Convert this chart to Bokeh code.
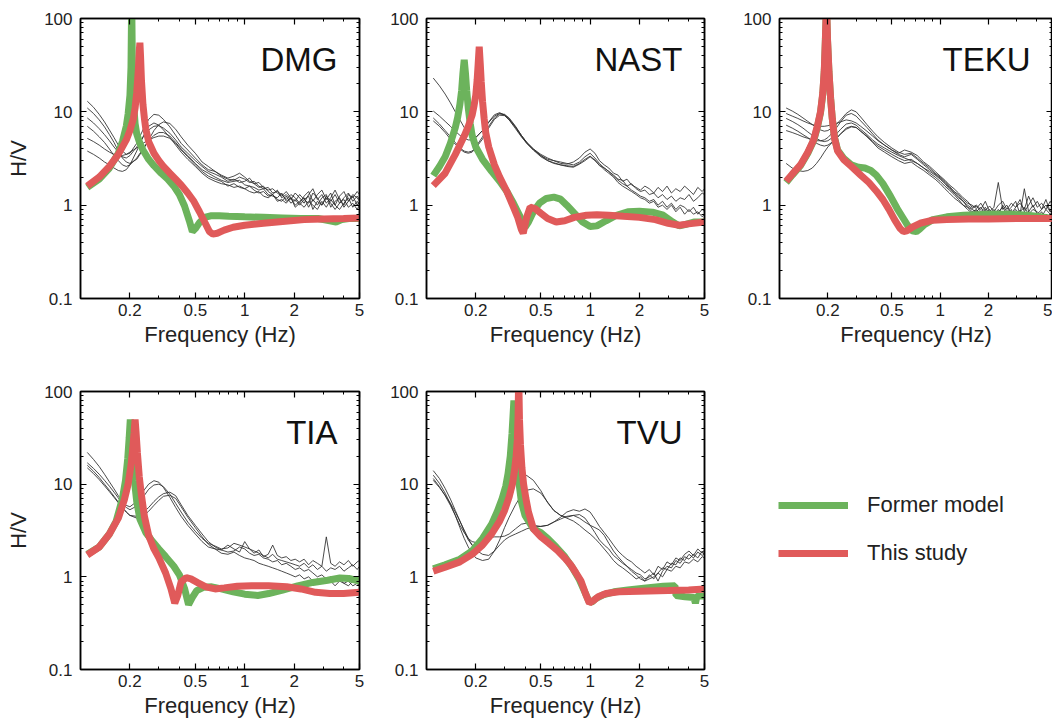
from bokeh.plotting import figure
from bokeh.layouts import row, column
from bokeh.models import (LogAxis, FixedTicker, CustomJSTickFormatter, Label,
                          Legend, LegendItem, Range1d)
from bokeh.embed import file_html
from bokeh.resources import INLINE

FONT = "Liberation Sans"
GREEN = "#6cb35c"
RED = "#e05a5a"
BLACK = "#2b2b2b"

# ---------------- axis ticks ----------------
X_MAJOR = [0.2, 0.5, 1, 2, 5]
X_MINOR = [0.1, 0.3, 0.4, 0.6, 0.7, 0.8, 0.9, 3, 4]
Y_MAJOR = [0.1, 1, 10, 100]
Y_MINOR = [0.2, 0.3, 0.4, 0.5, 0.6, 0.7, 0.8, 0.9, 2, 3, 4, 5, 6, 7, 8, 9,
           20, 30, 40, 50, 60, 70, 80, 90]

# ---------------- observed H/V (thin black) ----------------
FREQ_OBS = [0.11, 0.12, 0.13, 0.14, 0.15, 0.16, 0.17, 0.18, 0.19, 0.20,
            0.22, 0.24, 0.26, 0.28, 0.30, 0.32, 0.35, 0.38, 0.41, 0.45,
            0.50, 0.55, 0.60, 0.66, 0.72, 0.79, 0.86, 0.93, 1.00, 1.07,
            1.14, 1.22, 1.30, 1.39, 1.48, 1.58, 1.68, 1.79, 1.91, 2.03,
            2.16, 2.30, 2.45, 2.60, 2.77, 2.95, 3.14, 3.34, 3.55, 3.78,
            4.02, 4.28, 4.55, 4.84, 5.00]

DMG_OBS_1 = [13.0, 11.2, 9.4, 7.8, 6.4, 5.3, 4.4, 3.8, 3.5, 3.6,
             4.6, 6.4, 8.3, 9.4, 9.2, 8.3, 6.9, 5.6, 4.6, 3.9,
             3.2, 2.7, 2.4, 2.3, 2.1, 1.95, 2.05, 2.2, 2.0, 1.8,
             1.7, 1.75, 1.55, 1.45, 1.5, 1.35, 1.25, 1.4, 1.2, 1.1,
             1.3, 1.15, 1.05, 1.35, 1.2, 1.0, 1.25, 1.1, 1.3, 1.05,
             1.2, 1.35, 1.1, 1.25, 1.15]
DMG_OBS_2 = [11.0, 9.6, 8.2, 6.9, 5.7, 4.7, 3.8, 3.2, 2.9, 2.8,
             3.1, 3.9, 5.0, 6.3, 7.3, 7.8, 7.5, 6.5, 5.4, 4.4,
             3.6, 2.9, 2.6, 2.3, 2.05, 1.9, 1.85, 2.0, 1.9, 1.75,
             1.8, 1.6, 1.5, 1.55, 1.35, 1.4, 1.3, 1.15, 1.3, 1.2,
             1.05, 1.25, 1.4, 1.1, 1.3, 1.45, 1.15, 1.35, 1.0, 1.25,
             1.4, 1.1, 1.3, 1.2, 1.1]
DMG_OBS_3 = [8.6, 7.6, 6.6, 5.7, 4.9, 4.2, 3.7, 3.3, 3.2, 3.4,
             4.2, 5.3, 6.4, 7.0, 7.1, 6.7, 5.9, 5.0, 4.2, 3.6,
             3.0, 2.6, 2.3, 2.15, 2.0, 1.8, 1.9, 1.75, 1.8, 1.95,
             1.7, 1.55, 1.6, 1.4, 1.3, 1.45, 1.2, 1.3, 1.15, 1.35,
             1.2, 1.05, 1.3, 1.5, 1.15, 1.3, 1.05, 1.2, 1.45, 1.15,
             1.0, 1.3, 1.2, 1.4, 1.3]
DMG_OBS_4 = [7.0, 6.2, 5.4, 4.7, 4.0, 3.4, 3.0, 2.7, 2.6, 2.7,
             3.2, 4.0, 4.9, 5.6, 6.0, 6.0, 5.5, 4.7, 4.0, 3.4,
             2.8, 2.4, 2.2, 2.0, 1.85, 1.75, 1.8, 1.85, 1.65, 1.6,
             1.55, 1.45, 1.5, 1.3, 1.25, 1.2, 1.35, 1.1, 1.2, 1.0,
             1.1, 1.2, 0.95, 1.15, 1.0, 1.2, 1.3, 0.95, 1.1, 1.2,
             0.95, 1.1, 1.25, 1.0, 1.1]
DMG_OBS_5 = [5.2, 4.8, 4.4, 4.0, 3.7, 3.5, 3.4, 3.4, 3.5, 3.7,
             4.1, 4.6, 5.0, 5.3, 5.5, 5.5, 5.2, 4.6, 3.9, 3.3,
             2.7, 2.3, 2.05, 1.9, 1.8, 1.6, 1.7, 1.55, 1.5, 1.6,
             1.45, 1.35, 1.4, 1.25, 1.3, 1.15, 1.1, 1.25, 1.05, 1.15,
             1.0, 1.15, 1.25, 0.9, 1.1, 1.0, 1.2, 1.05, 0.9, 1.05,
             1.15, 0.95, 1.05, 0.9, 1.0]
DMG_OBS_6 = [3.8, 3.5, 3.2, 2.9, 2.7, 2.5, 2.35, 2.3, 2.4, 2.7,
             3.8, 5.4, 7.0, 7.6, 7.2, 6.4, 5.3, 4.4, 3.7, 3.1,
             2.6, 2.2, 1.95, 1.8, 1.7, 1.65, 1.55, 1.6, 1.5, 1.4,
             1.35, 1.4, 1.25, 1.2, 1.3, 1.1, 1.15, 1.05, 1.2, 0.95,
             1.05, 0.95, 1.1, 1.0, 0.9, 1.1, 0.95, 1.15, 1.0, 0.9,
             1.05, 1.2, 0.95, 1.1, 1.0]

NAST_OBS_1 = [23, 19, 15.5, 12.5, 10, 8.2, 6.8, 5.8, 5.3, 5.3,
              6.3, 7.8, 9.3, 9.8, 9.2, 8.2, 6.6, 5.4, 4.6, 3.9,
              3.4, 3.1, 3.0, 2.9, 2.8, 2.7, 2.9, 3.3, 3.6, 3.2,
              2.8, 2.5, 2.3, 2.1, 1.9, 1.85, 1.6, 1.7, 1.5, 1.4,
              1.45, 1.3, 1.35, 1.2, 1.3, 1.15, 1.25, 1.1, 1.2, 1.15,
              1.3, 1.1, 1.2, 1.35, 1.3]
NAST_OBS_2 = [10.2, 9.0, 7.9, 7.0, 6.2, 5.6, 5.2, 5.0, 5.0, 5.3,
              6.3, 7.7, 9.0, 9.6, 9.3, 8.4, 6.9, 5.6, 4.7, 4.0,
              3.5, 3.2, 3.0, 2.8, 2.75, 2.9, 3.2, 3.7, 4.0, 3.6,
              3.0, 2.7, 2.5, 2.2, 2.1, 1.8, 1.9, 1.65, 1.55, 1.45,
              1.6, 1.5, 1.35, 1.55, 1.4, 1.6, 1.35, 1.5, 1.4, 1.6,
              1.45, 1.3, 1.55, 1.4, 1.5]
NAST_OBS_3 = [8.6, 7.4, 6.3, 5.4, 4.7, 4.1, 3.8, 3.7, 3.8, 4.2,
              5.4, 7.0, 8.6, 9.5, 9.4, 8.6, 7.0, 5.6, 4.7, 4.0,
              3.4, 3.0, 2.85, 2.7, 2.6, 2.55, 2.75, 3.0, 3.3, 3.0,
              2.7, 2.4, 2.2, 2.0, 1.75, 1.6, 1.5, 1.4, 1.3, 1.2,
              1.15, 1.05, 1.1, 0.95, 1.0, 0.9, 1.0, 0.85, 0.95, 0.8,
              0.9, 0.8, 0.85, 0.75, 0.8]
NAST_OBS_4 = [8.0, 7.0, 6.0, 5.1, 4.5, 4.0, 3.7, 3.6, 3.7, 4.1,
              5.1, 6.7, 8.3, 9.2, 9.1, 8.2, 6.8, 5.5, 4.6, 3.9,
              3.3, 3.0, 2.8, 2.7, 2.65, 2.6, 2.8, 3.1, 3.35, 3.05,
              2.65, 2.5, 2.3, 2.05, 1.85, 1.7, 1.6, 1.45, 1.35, 1.25,
              1.2, 1.1, 1.15, 1.0, 1.1, 0.95, 1.05, 0.9, 1.0, 0.95,
              0.85, 0.95, 0.8, 0.9, 0.85]

TEKU_OBS_1 = [11.0, 10.2, 9.4, 8.6, 7.9, 7.3, 6.8, 6.4, 6.2, 6.3,
              7.0, 8.2, 9.6, 10.5, 10.0, 8.8, 7.3, 6.2, 5.4, 4.7,
              4.1, 3.7, 3.5, 3.6, 3.2, 2.8, 2.5, 2.2, 2.0, 1.8,
              1.6, 1.4, 1.3, 1.15, 1.05, 1.0, 0.92, 1.05, 0.88, 0.98,
              0.85, 1.0, 1.1, 0.9, 1.05, 0.95, 1.15, 0.85, 1.0, 1.2,
              0.95, 1.05, 0.9, 1.1, 1.0]
TEKU_OBS_2 = [9.6, 9.0, 8.5, 8.0, 7.6, 7.3, 7.1, 7.0, 7.0, 7.1,
              7.4, 7.8, 8.2, 8.0, 7.6, 7.0, 6.2, 5.5, 4.9, 4.4,
              3.9, 3.6, 3.9, 3.7, 3.4, 2.9, 2.6, 2.3, 2.05, 1.85,
              1.65, 1.5, 1.35, 1.2, 1.1, 0.95, 1.0, 0.9, 1.1, 0.85,
              0.95, 1.75, 0.9, 1.0, 0.8, 0.95, 1.05, 0.9, 1.25, 0.95,
              1.1, 0.9, 1.0, 0.85, 0.95]
TEKU_OBS_3 = [8.5, 7.9, 7.3, 6.7, 6.1, 5.6, 5.2, 4.9, 4.8, 4.9,
              5.5, 6.5, 7.4, 7.6, 7.2, 6.5, 5.7, 5.0, 4.5, 4.1,
              3.7, 3.4, 3.2, 3.0, 2.8, 2.5, 2.3, 2.1, 1.9, 1.7,
              1.5, 1.35, 1.2, 1.1, 0.95, 0.9, 0.85, 0.95, 0.8, 0.9,
              0.75, 0.85, 0.95, 0.8, 0.9, 0.7, 0.85, 0.95, 0.8, 0.9,
              0.85, 0.75, 0.9, 0.8, 0.85]
TEKU_OBS_4 = [7.2, 6.7, 6.2, 5.7, 5.3, 4.9, 4.6, 4.4, 4.3, 4.4,
              4.9, 5.8, 6.7, 7.0, 6.8, 6.2, 5.5, 4.8, 4.3, 3.9,
              3.5, 3.2, 3.0, 3.1, 2.8, 2.5, 2.2, 2.0, 1.8, 1.6,
              1.45, 1.3, 1.15, 1.0, 0.95, 0.85, 0.9, 0.8, 0.9, 0.75,
              0.85, 0.8, 0.7, 0.85, 0.75, 0.9, 0.8, 0.7, 0.85, 0.8,
              0.75, 0.85, 0.7, 0.8, 0.75]
TEKU_OBS_5 = [6.3, 6.0, 5.7, 5.4, 5.2, 5.0, 4.9, 4.9, 5.0, 5.3,
              6.3, 7.8, 9.2, 9.6, 9.0, 8.0, 6.8, 5.8, 5.0, 4.4,
              3.9, 3.5, 3.3, 3.5, 3.1, 2.7, 2.4, 2.15, 1.95, 1.75,
              1.55, 1.4, 1.25, 1.1, 1.0, 0.92, 0.98, 0.85, 0.95, 0.8,
              0.9, 0.78, 1.0, 0.85, 0.95, 1.1, 0.8, 1.5, 0.85, 1.0,
              0.8, 0.9, 1.15, 0.85, 0.9]
TEKU_OBS_6 = [2.8, 2.5, 2.35, 2.3, 2.35, 2.5, 2.8, 3.2, 3.7, 4.2,
              5.0, 5.8, 6.5, 6.9, 6.8, 6.2, 5.4, 4.7, 4.1, 3.7,
              3.3, 3.0, 2.8, 2.9, 2.6, 2.35, 2.1, 1.9, 1.7, 1.5,
              1.35, 1.2, 1.1, 1.0, 0.9, 0.82, 0.88, 0.78, 0.85, 0.72,
              0.8, 0.9, 0.75, 0.82, 0.7, 0.8, 0.88, 0.75, 0.8, 0.72,
              0.78, 0.7, 0.8, 0.75, 0.8]

TIA_OBS_1 = [22, 18.5, 15.5, 12.8, 10.6, 8.9, 7.5, 6.5, 5.9, 5.7,
             6.5, 8.3, 10.0, 10.9, 10.5, 9.2, 7.2, 5.6, 4.5, 3.6,
             2.9, 2.4, 2.1, 2.0, 1.95, 1.85, 1.9, 2.1, 2.0, 1.8,
             1.7, 1.75, 1.6, 1.55, 1.45, 1.5, 1.35, 1.4, 1.3, 1.2,
             1.25, 1.15, 1.2, 1.1, 1.0, 1.05, 0.95, 1.0, 0.9, 0.95,
             0.85, 0.9, 0.8, 0.85, 0.8]
TIA_OBS_2 = [17, 14.8, 12.8, 11.0, 9.5, 8.2, 7.1, 6.2, 5.6, 5.3,
             5.8, 7.2, 8.8, 9.8, 10.0, 9.4, 7.8, 6.2, 5.0, 3.9,
             3.1, 2.6, 2.3, 2.15, 2.0, 2.05, 2.3, 2.2, 2.1, 2.0,
             1.9, 1.8, 1.7, 1.6, 1.75, 1.55, 1.5, 1.45, 1.4, 1.35,
             1.3, 1.4, 1.25, 1.35, 1.2, 1.3, 1.15, 1.25, 1.2, 1.3,
             1.15, 1.25, 1.35, 1.2, 1.3]
TIA_OBS_3 = [16, 13.8, 11.8, 10.0, 8.6, 7.4, 6.4, 5.6, 5.0, 4.6,
             4.5, 4.9, 5.6, 6.5, 7.3, 7.9, 8.2, 7.5, 6.0, 4.6,
             3.6, 2.9, 2.4, 2.1, 1.95, 2.2, 2.0, 1.85, 2.4, 2.0,
             1.8, 1.95, 1.65, 1.75, 2.2, 1.7, 1.6, 1.65, 1.5, 1.55,
             1.45, 1.55, 1.35, 1.5, 1.4, 1.3, 2.7, 1.4, 1.3, 1.45,
             1.35, 1.5, 1.3, 1.45, 1.5]
TIA_OBS_4 = [15, 13.0, 11.2, 9.6, 8.3, 7.2, 6.3, 5.6, 5.0, 4.6,
             4.3, 4.5, 5.1, 5.9, 6.7, 7.4, 7.6, 7.0, 5.7, 4.4,
             3.4, 2.7, 2.25, 2.0, 1.8, 1.75, 1.85, 1.7, 1.6, 1.55,
             1.5, 1.4, 1.35, 1.3, 1.25, 1.2, 1.15, 1.1, 1.05, 1.0,
             1.05, 0.95, 1.0, 0.9, 0.95, 0.85, 0.95, 0.9, 0.8, 0.9,
             0.85, 0.8, 0.9, 0.85, 0.8]

TVU_OBS_1 = [14.0, 11.5, 9.0, 6.9, 5.2, 4.0, 3.1, 2.5, 2.2, 2.05,
             2.1, 2.6, 3.6, 5.0, 6.8, 8.5, 10.8, 12.3, 12.4, 11.0,
             8.5, 6.3, 5.2, 4.6, 4.3, 4.0, 3.6, 3.2, 2.9, 2.6,
             2.3, 2.0, 1.75, 1.5, 1.35, 1.25, 1.15, 1.05, 0.95, 1.0,
             0.9, 1.05, 0.95, 1.1, 1.25, 1.2, 1.4, 1.35, 1.6, 1.5,
             1.75, 1.6, 1.85, 1.7, 1.8]
TVU_OBS_2 = [12.5, 10.2, 8.0, 6.1, 4.6, 3.4, 2.6, 2.1, 1.8, 1.6,
             1.5, 1.55, 1.9, 2.5, 3.4, 4.4, 6.0, 7.6, 8.6, 8.9,
             8.0, 6.4, 5.2, 4.6, 4.4, 4.6, 4.7, 4.3, 3.6, 3.0,
             2.5, 2.2, 2.0, 1.7, 1.55, 1.4, 1.3, 1.2, 1.1, 1.05,
             0.95, 1.0, 1.1, 0.9, 1.15, 1.3, 1.25, 1.5, 1.4, 1.65,
             1.55, 1.75, 1.6, 1.9, 1.7]
TVU_OBS_3 = [11.5, 9.4, 7.5, 5.9, 4.6, 3.6, 3.0, 2.6, 2.4, 2.35,
             2.5, 2.65, 2.7, 2.7, 2.75, 2.9, 3.3, 3.7, 3.8, 3.6,
             3.5, 3.6, 3.9, 4.4, 5.0, 5.3, 5.1, 5.4, 5.0, 4.2,
             3.5, 3.0, 2.6, 2.2, 1.9, 1.7, 1.55, 1.45, 1.3, 1.2,
             1.1, 1.2, 1.05, 1.3, 1.2, 1.45, 1.35, 1.6, 1.5, 1.75,
             1.9, 1.7, 2.0, 1.8, 1.95]
TVU_OBS_4 = [11.0, 9.2, 7.6, 6.2, 5.0, 4.0, 3.2, 2.6, 2.2, 1.95,
             1.75, 1.7, 1.9, 2.2, 2.5, 2.7, 2.9, 3.1, 3.3, 3.45,
             3.5, 3.6, 3.9, 4.2, 4.5, 4.6, 4.3, 3.9, 3.6, 3.4,
             3.2, 2.8, 2.3, 1.9, 1.65, 1.45, 1.3, 1.15, 1.05, 0.95,
             0.9, 0.95, 1.0, 1.1, 1.0, 1.2, 1.15, 1.3, 1.25, 1.45,
             1.4, 1.55, 1.45, 1.65, 1.6]

# ---------------- model H/V curves ----------------
DMG_GREEN_F = [0.11, 0.13, 0.15, 0.17, 0.18, 0.19, 0.195, 0.2, 0.203, 0.205,
               0.207, 0.21, 0.215, 0.22, 0.23, 0.24, 0.26, 0.28, 0.31, 0.34,
               0.37, 0.40, 0.43, 0.46, 0.48, 0.50, 0.53, 0.57, 0.62, 0.70,
               0.80, 1.0, 1.3, 1.7, 2.2, 2.8, 3.3, 3.6, 3.9, 4.3, 5.0]
DMG_GREEN_V = [1.55, 1.9, 2.5, 3.6, 4.8, 7.0, 9.5, 15, 30, 160,
               30, 13, 7.5, 5.8, 4.6, 3.9, 3.1, 2.65, 2.2, 1.9,
               1.6, 1.3, 0.98, 0.68, 0.52, 0.56, 0.65, 0.74, 0.77, 0.77,
               0.76, 0.75, 0.74, 0.73, 0.72, 0.72, 0.68, 0.66, 0.70, 0.72, 0.72]
DMG_RED_F = [0.11, 0.13, 0.15, 0.17, 0.19, 0.20, 0.21, 0.215, 0.22, 0.225,
             0.228, 0.23, 0.232, 0.235, 0.24, 0.245, 0.25, 0.26, 0.28, 0.30,
             0.32, 0.35, 0.38, 0.41, 0.45, 0.49, 0.53, 0.57, 0.61, 0.64,
             0.68, 0.75, 0.85, 1.0, 1.3, 1.7, 2.3, 3.0, 4.0, 5.0]
DMG_RED_V = [1.6, 2.0, 2.6, 3.5, 5.0, 6.3, 8.5, 11, 16, 28,
             45, 55, 40, 22, 12, 8.5, 6.5, 4.8, 3.6, 3.0,
             2.6, 2.2, 1.9, 1.65, 1.35, 1.1, 0.85, 0.66, 0.52, 0.49,
             0.5, 0.54, 0.58, 0.61, 0.64, 0.67, 0.7, 0.71, 0.72, 0.73]

NAST_GREEN_F = [0.11, 0.12, 0.13, 0.14, 0.15, 0.155, 0.16, 0.164, 0.167, 0.17,
                0.173, 0.176, 0.18, 0.185, 0.19, 0.2, 0.22, 0.25, 0.28, 0.31,
                0.34, 0.37, 0.40, 0.42, 0.45, 0.49, 0.54, 0.60, 0.66, 0.72,
                0.80, 0.90, 1.0, 1.1, 1.25, 1.45, 1.7, 2.0, 2.4, 2.8,
                3.2, 3.5, 3.8, 4.3, 5.0]
NAST_GREEN_V = [2.07, 2.6, 3.3, 4.6, 6.8, 8.7, 12, 17, 26, 36,
                26, 17, 11, 7.5, 5.6, 4.2, 3.1, 2.3, 1.8, 1.4,
                1.05, 0.78, 0.58, 0.66, 0.85, 1.05, 1.18, 1.22, 1.16, 1.0,
                0.82, 0.66, 0.59, 0.6, 0.68, 0.78, 0.85, 0.86, 0.84, 0.78,
                0.66, 0.6, 0.62, 0.66, 0.66]
NAST_RED_F = [0.11, 0.13, 0.15, 0.17, 0.18, 0.19, 0.195, 0.2, 0.204, 0.207,
              0.21, 0.213, 0.216, 0.22, 0.225, 0.23, 0.24, 0.26, 0.28, 0.31,
              0.34, 0.36, 0.38, 0.39, 0.41, 0.43, 0.46, 0.50, 0.55, 0.62,
              0.70, 0.80, 0.95, 1.1, 1.3, 1.6, 2.0, 2.5, 3.0, 3.5,
              4.0, 5.0]
NAST_RED_V = [1.62, 2.2, 3.5, 5.5, 7.0, 9.2, 11.5, 15, 22, 33,
              50, 33, 21, 13, 8.5, 6.0, 4.2, 2.7, 2.0, 1.4,
              0.95, 0.75, 0.55, 0.5, 0.75, 0.95, 0.92, 0.82, 0.72, 0.66,
              0.68, 0.74, 0.78, 0.79, 0.78, 0.76, 0.74, 0.70, 0.64, 0.61,
              0.63, 0.66]

TEKU_GREEN_F = [0.11, 0.12, 0.135, 0.15, 0.163, 0.172, 0.18, 0.186, 0.19, 0.193,
                0.196, 0.199, 0.203, 0.208, 0.213, 0.22, 0.23, 0.25, 0.28, 0.31,
                0.34, 0.37, 0.40, 0.44, 0.49, 0.54, 0.59, 0.63, 0.67, 0.71,
                0.75, 0.80, 0.90, 1.1, 1.4, 2.0, 2.7, 3.5, 4.2, 5.0]
TEKU_GREEN_V = [1.75, 2.1, 2.65, 3.6, 4.9, 6.8, 9.8, 15.5, 27, 58,
                140, 58, 27, 14, 8.5, 5.3, 3.9, 3.2, 2.7, 2.55,
                2.5, 2.35, 2.1, 1.7, 1.25, 0.92, 0.72, 0.6, 0.53, 0.52,
                0.56, 0.62, 0.7, 0.75, 0.78, 0.8, 0.8, 0.78, 0.75, 0.72]
TEKU_RED_F = [0.11, 0.12, 0.135, 0.15, 0.163, 0.172, 0.18, 0.186, 0.19, 0.193,
              0.196, 0.199, 0.203, 0.208, 0.213, 0.22, 0.23, 0.25, 0.28, 0.32,
              0.36, 0.40, 0.44, 0.48, 0.52, 0.56, 0.59, 0.62, 0.67, 0.75,
              0.9, 1.1, 1.5, 2.0, 3.0, 4.0, 5.0]
TEKU_RED_V = [1.8, 2.15, 2.7, 3.7, 5.0, 7.0, 10, 16, 28, 60,
              150, 60, 28, 14, 8.5, 5.2, 3.8, 3.1, 2.6, 2.1,
              1.75, 1.42, 1.15, 0.9, 0.7, 0.57, 0.52, 0.53, 0.58, 0.64,
              0.69, 0.7, 0.71, 0.71, 0.72, 0.72, 0.72]

TIA_GREEN_F = [0.11, 0.13, 0.15, 0.165, 0.18, 0.188, 0.194, 0.198, 0.201, 0.204,
               0.208, 0.213, 0.22, 0.23, 0.25, 0.27, 0.30, 0.33, 0.37, 0.40,
               0.43, 0.455, 0.48, 0.51, 0.56, 0.63, 0.72, 0.85, 1.0, 1.2,
               1.4, 1.7, 2.1, 2.6, 3.2, 3.8, 4.3, 5.0]
TIA_GREEN_V = [1.75, 2.1, 2.9, 4.0, 7.0, 11, 19, 32, 50, 32,
               19, 11, 6.5, 4.2, 3.0, 2.5, 2.0, 1.65, 1.3, 1.05,
               0.75, 0.5, 0.6, 0.71, 0.77, 0.78, 0.74, 0.69, 0.65, 0.63,
               0.66, 0.72, 0.8, 0.87, 0.92, 0.97, 0.96, 0.9]
TIA_RED_F = [0.11, 0.13, 0.15, 0.17, 0.185, 0.195, 0.203, 0.208, 0.212, 0.215,
             0.218, 0.222, 0.228, 0.235, 0.245, 0.26, 0.28, 0.30, 0.33, 0.355,
             0.375, 0.39, 0.41, 0.44, 0.47, 0.52, 0.58, 0.66, 0.75, 0.90,
             1.1, 1.4, 1.8, 2.2, 2.7, 3.3, 4.0, 5.0]
TIA_RED_V = [1.72, 2.1, 2.9, 4.3, 6.8, 10, 16, 24, 36, 50,
             36, 22, 12, 7.6, 4.5, 2.8, 2.0, 1.6, 1.1, 0.75,
             0.52, 0.62, 0.88, 0.98, 0.95, 0.86, 0.78, 0.74, 0.76, 0.79,
             0.8, 0.8, 0.78, 0.74, 0.68, 0.66, 0.66, 0.68]

TVU_GREEN_F = [0.11, 0.13, 0.16, 0.19, 0.22, 0.25, 0.27, 0.29, 0.305, 0.315,
               0.325, 0.333, 0.338, 0.342, 0.346, 0.351, 0.358, 0.367, 0.38, 0.40,
               0.45, 0.50, 0.55, 0.62, 0.70, 0.78, 0.86, 0.93, 0.98, 1.02,
               1.08, 1.2, 1.4, 1.7, 2.2, 2.8, 3.3, 3.35, 3.8, 4.3,
               4.4, 4.5, 5.0]
TVU_GREEN_V = [1.22, 1.35, 1.55, 1.9, 2.6, 3.7, 5.0, 7.0, 9.5, 13,
               20, 35, 55, 80, 55, 32, 18, 10.5, 6.5, 4.6,
               3.3, 3.0, 2.6, 2.1, 1.65, 1.25, 0.93, 0.68, 0.55, 0.53,
               0.58, 0.64, 0.69, 0.72, 0.76, 0.79, 0.8, 0.63, 0.61, 0.6,
               0.52, 0.62, 0.62]
TVU_RED_F = [0.11, 0.13, 0.16, 0.19, 0.22, 0.25, 0.28, 0.30, 0.32, 0.335,
             0.345, 0.353, 0.359, 0.363, 0.366, 0.37, 0.375, 0.383, 0.392, 0.405,
             0.42, 0.45, 0.50, 0.56, 0.63, 0.70, 0.76, 0.82, 0.88, 0.94,
             0.99, 1.04, 1.12, 1.25, 1.5, 2.0, 3.0, 4.0, 5.0]
TVU_RED_V = [1.15, 1.27, 1.45, 1.75, 2.2, 2.9, 4.0, 5.2, 7.3, 10,
             14, 20, 30, 55, 150, 50, 27, 15, 10, 7.0,
             5.0, 3.3, 2.7, 2.3, 1.93, 1.6, 1.35, 1.1, 0.9, 0.65,
             0.52, 0.55, 0.61, 0.66, 0.69, 0.7, 0.71, 0.72, 0.74]

STATIONS = ["DMG", "NAST", "TEKU", "TIA", "TVU"]
LEGEND_LABELS = ["Former model", "This study"]


def style_axis(ax, show_labels, tick_standoff=6):
    ax.major_tick_in = 6
    ax.major_tick_out = 0
    ax.minor_tick_in = 3
    ax.minor_tick_out = 0
    ax.axis_line_width = 1.5
    ax.axis_line_color = "black"
    ax.major_tick_line_color = "black"
    ax.minor_tick_line_color = "black"
    ax.major_tick_line_width = 1.2
    ax.minor_tick_line_width = 1
    ax.major_label_text_font = FONT
    if show_labels:
        ax.major_label_text_color = "#222222"
        ax.major_label_text_font_size = "17px"
        ax.major_label_standoff = tick_standoff
    else:
        ax.major_label_text_color = None
        ax.major_label_text_font_size = "1px"
        ax.major_label_standoff = 0
    ax.axis_label_text_font = FONT
    ax.axis_label_text_font_size = "22px"
    ax.axis_label_text_font_style = "normal"
    ax.axis_label_text_color = "#222222"


def make_panel(name, obs, gf, gv, rf, rv, width, height, bl, br, bt, bb,
               ylabel, x_tick_standoff, x_label_standoff):
    p = figure(width=width, height=height, x_axis_type="log", y_axis_type="log",
               x_range=Range1d(0.1, 5), y_range=Range1d(0.1, 100),
               toolbar_location=None, output_backend="svg",
               min_border_left=bl, min_border_right=br,
               min_border_top=bt, min_border_bottom=bb)
    p.xgrid.visible = False
    p.ygrid.visible = False
    p.outline_line_color = "black"
    p.outline_line_width = 1.5
    fmt = CustomJSTickFormatter(code="return String(tick);")
    for ax in p.xaxis:
        ax.ticker = FixedTicker(ticks=X_MAJOR, minor_ticks=X_MINOR)
        ax.formatter = fmt
        style_axis(ax, True, x_tick_standoff)
        ax.axis_label = "Frequency (Hz)"
        ax.axis_label_standoff = x_label_standoff
    for ax in p.yaxis:
        ax.ticker = FixedTicker(ticks=Y_MAJOR, minor_ticks=Y_MINOR)
        ax.formatter = fmt
        style_axis(ax, True, 8)
        if ylabel:
            ax.axis_label = "H/V"
            ax.axis_label_standoff = 10
    top = LogAxis(ticker=FixedTicker(ticks=X_MAJOR, minor_ticks=X_MINOR),
                  formatter=CustomJSTickFormatter(code="return String(tick);"))
    style_axis(top, False)
    p.add_layout(top, "above")
    right = LogAxis(ticker=FixedTicker(ticks=Y_MAJOR, minor_ticks=Y_MINOR),
                    formatter=CustomJSTickFormatter(code="return String(tick);"))
    style_axis(right, False)
    p.add_layout(right, "right")

    for c in obs:
        p.line(FREQ_OBS, c, line_color=BLACK, line_width=1, line_alpha=0.85)
    p.line(gf, gv, line_color=GREEN, line_width=7)
    p.line(rf, rv, line_color=RED, line_width=7)

    fw = width - bl - br
    fh = height - bt - bb
    p.add_layout(Label(x=fw - 22, y=fh - 41, x_units="screen", y_units="screen",
                       text=name, text_align="right", text_baseline="alphabetic",
                       text_font=FONT, text_font_size="33px", text_color="#111111"))
    return p


# page has no margin: row 1 height 353 = 18 + 280 + 55 ; row 2 height 368 = 38 + 278 + 52
f1 = make_panel(STATIONS[0], [DMG_OBS_1, DMG_OBS_2, DMG_OBS_3, DMG_OBS_4, DMG_OBS_5, DMG_OBS_6],
                DMG_GREEN_F, DMG_GREEN_V, DMG_RED_F, DMG_RED_V,
                369, 353, 80, 10, 18, 55, True, 5, 3)
f2 = make_panel(STATIONS[1], [NAST_OBS_1, NAST_OBS_2, NAST_OBS_3, NAST_OBS_4],
                NAST_GREEN_F, NAST_GREEN_V, NAST_RED_F, NAST_RED_V,
                345, 353, 57, 10, 18, 55, False, 5, 3)
f3 = make_panel(STATIONS[2], [TEKU_OBS_1, TEKU_OBS_2, TEKU_OBS_3, TEKU_OBS_4, TEKU_OBS_5, TEKU_OBS_6],
                TEKU_GREEN_F, TEKU_GREEN_V, TEKU_RED_F, TEKU_RED_V,
                338, 353, 65, 0, 18, 55, False, 5, 3)
f4 = make_panel(STATIONS[3], [TIA_OBS_1, TIA_OBS_2, TIA_OBS_3, TIA_OBS_4],
                TIA_GREEN_F, TIA_GREEN_V, TIA_RED_F, TIA_RED_V,
                369, 368, 80, 10, 38, 52, True, 5, 3)
f5 = make_panel(STATIONS[4], [TVU_OBS_1, TVU_OBS_2, TVU_OBS_3, TVU_OBS_4],
                TVU_GREEN_F, TVU_GREEN_V, TVU_RED_F, TVU_RED_V,
                345, 368, 57, 10, 38, 52, False, 5, 3)

leg = figure(width=338, height=368, toolbar_location=None, output_backend="svg",
             x_range=Range1d(0, 1), y_range=Range1d(0, 1),
             x_axis_location=None, y_axis_location=None,
             min_border_left=0, min_border_right=0, min_border_top=0, min_border_bottom=0)
leg.outline_line_color = None
leg.xgrid.visible = False
leg.ygrid.visible = False
NAN = float("nan")
g_r = leg.line([NAN], [NAN], line_color=GREEN, line_width=7)
r_r = leg.line([NAN], [NAN], line_color=RED, line_width=7)
legend = Legend(items=[LegendItem(label=LEGEND_LABELS[0], renderers=[g_r]),
                       LegendItem(label=LEGEND_LABELS[1], renderers=[r_r])],
                location=(64, 103), orientation="vertical",
                glyph_width=70, glyph_height=24, label_height=24,
                label_standoff=19, spacing=22, padding=0, margin=0,
                border_line_color=None, background_fill_alpha=0,
                label_text_font=FONT, label_text_font_size="22px",
                label_text_color="#222222")
leg.add_layout(legend)

layout = column(row(f1, f2, f3), row(f4, f5, leg))
open("out.html", "w").write(file_html(layout, INLINE))
